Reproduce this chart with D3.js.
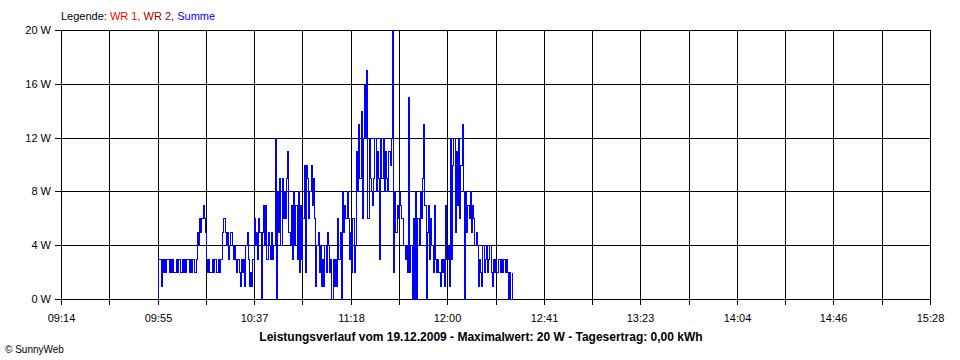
<!DOCTYPE html>
<html>
<head>
<meta charset="utf-8">
<script src="https://cdn.jsdelivr.net/npm/d3@7"></script>
<style>
  html, body { margin: 0; padding: 0; background: #fff; }
  svg { display: block; font-family: "Liberation Sans", Arial, sans-serif; }
</style>
</head>
<body>
<svg id="chart" width="960" height="360"></svg>
<script>
// ---- data ----
const xTickLabels = ["09:14","09:55","10:37","11:18","12:00","12:41","13:23","14:04","14:46","15:28"];
const yTickValues = [0, 4, 8, 12, 16, 20];
const axisStartMinutes = 0;      // 09:14
const axisEndMinutes = 374;      // 15:28
const gridCount = 18;
const sampleStartMinutes = 41.4; // first sample (~09:55)
const sampleStepMinutes = 0.5;

// Summe (W), in time order, split into parts
const summePartA = [0,3,3,1,3,2,3,2,3,3,2,3,2,3,2,2,3,2,3,3,2,3,2,3,2,3,3,2,3,2,3,3,2,3,
  5,4,6,5,6,7,6,5,
  3,2,3,2,2,3,2,3,3,2,3,2,3,3,
  5,6,5,4,5,3,4,5,4,3,4,
  3,2,3,2,1,3,2,3,1,4,5,3,1,2,1,3,
  6,4,5,3,6,5,0,5,7,4,7,3,5,4,3,
  5,3,4];
const summePartB = [12,0, 8,5,9,4,9,6, 8,6,9,11, 5,4, 7,3,8,4,7,3,8,2, 7,3,6, 10,2,10,
  9,6,8,10,7,9, 6,1, 4,5,2,4,1,3,1,4,2,5,4,2,3];
const summePartC = [0,3,1,3,1, 6,3,5,0, 8,5,7,6,8, 6,3,5,2,6,2,4, 11,8,13,9, 14,6,12,16,
  12,17,6,12, 9,8,7,9, 12,8,11, 9,3,12,9, 12,8,11,9,8,11,10,12];
const summePartD = [20,2, 8,5,7,6,8, 7,6, 6,4,3,4,2, 15, 2,4,0,6,0,8,0,6,4, 8,6,9, 13,7, 0,5,
  7,3,6, 4,2,7,3, 2,3,2,1,3,2,3,1, 7,3,4,1];
const summePartE = [12,3,10, 12,5,11,7,12,6,10,13,8, 0, 8,5,7,6,8,5,7, 6,4,5, 4,1,3,2,1,
  4,2,3,4,2,3,4,2,1,3,2,3,2,3, 3,2,3,2,3,2,3, 2,0,2,0,2];

const legendItems = [
  {label: "WR 1,", color: "#ff0000"},
  {label: "WR 2,", color: "#990000"},
  {label: "Summe", color: "#0000ff"}
];
const titleText = "Leistungsverlauf vom 19.12.2009 - Maximalwert: 20 W - Tagesertrag: 0,00 kWh";
const copyrightText = "\u00a9 SunnyWeb";

// ---- build ----
const summe = [].concat(summePartA, summePartB, summePartC, summePartD, summePartE)
  .map((v, i) => ({t: sampleStartMinutes + i * sampleStepMinutes, v}));

const svg = d3.select("#chart");
const plotLeft = 61, plotRight = 930, plotTop = 30, plotBottom = 299;

const x = d3.scaleLinear().domain([axisStartMinutes, axisEndMinutes]).range([plotLeft, plotRight]);
const y = d3.scaleLinear().domain([0, 20]).range([plotBottom, plotTop]);

const gridVals = d3.range(gridCount + 1).map(i => axisStartMinutes + i * (axisEndMinutes - axisStartMinutes) / gridCount);
const labelVals = gridVals.filter((d, i) => i % 2 === 0);

// vertical grid lines
svg.append("g").selectAll("line").data(gridVals).join("line")
  .attr("x1", d => Math.round(x(d)) + 0.5).attr("x2", d => Math.round(x(d)) + 0.5)
  .attr("y1", plotTop).attr("y2", plotBottom + 6)
  .attr("stroke", "#000").attr("stroke-width", 1);

// horizontal grid lines
svg.append("g").selectAll("line").data(yTickValues).join("line")
  .attr("x1", plotLeft - 6).attr("x2", plotRight + 1)
  .attr("y1", d => Math.round(y(d)) + 0.5).attr("y2", d => Math.round(y(d)) + 0.5)
  .attr("stroke", "#000").attr("stroke-width", 1);

// y labels
svg.append("g").selectAll("text").data(yTickValues).join("text")
  .attr("x", 51).attr("y", d => Math.round(y(d)) + 4)
  .attr("text-anchor", "end").attr("font-size", 11).attr("fill", "#000")
  .text(d => d + " W");

// x labels
svg.append("g").selectAll("text").data(labelVals).join("text")
  .attr("x", d => Math.round(x(d)) + 0.5).attr("y", 322)
  .attr("text-anchor", "middle").attr("font-size", 11).attr("fill", "#000")
  .text((d, i) => xTickLabels[i]);

// Summe line
const line = d3.line().x(d => Math.round(x(d.t)) + 0.5).y(d => Math.round(y(d.v)) + 0.5).curve(d3.curveStepAfter);
svg.append("path").datum(summe)
  .attr("d", line).attr("fill", "none").attr("stroke", "#0000ff").attr("stroke-width", 1)
  .attr("shape-rendering", "crispEdges");

// legend
const lg = svg.append("text").attr("x", 61).attr("y", 20).attr("font-size", 11);
lg.append("tspan").attr("fill", "#000").text("Legende: ");
legendItems.forEach((it, i) => {
  lg.append("tspan").attr("fill", it.color).text((i > 0 ? " " : "") + it.label);
});

// title
svg.append("text").attr("x", 481).attr("y", 341).attr("text-anchor", "middle")
  .attr("font-size", 12).attr("font-weight", "bold").attr("fill", "#000").text(titleText);

// copyright
svg.append("text").attr("x", 5).attr("y", 353).attr("font-size", 10).attr("fill", "#000").text(copyrightText);
</script>
</body>
</html>
